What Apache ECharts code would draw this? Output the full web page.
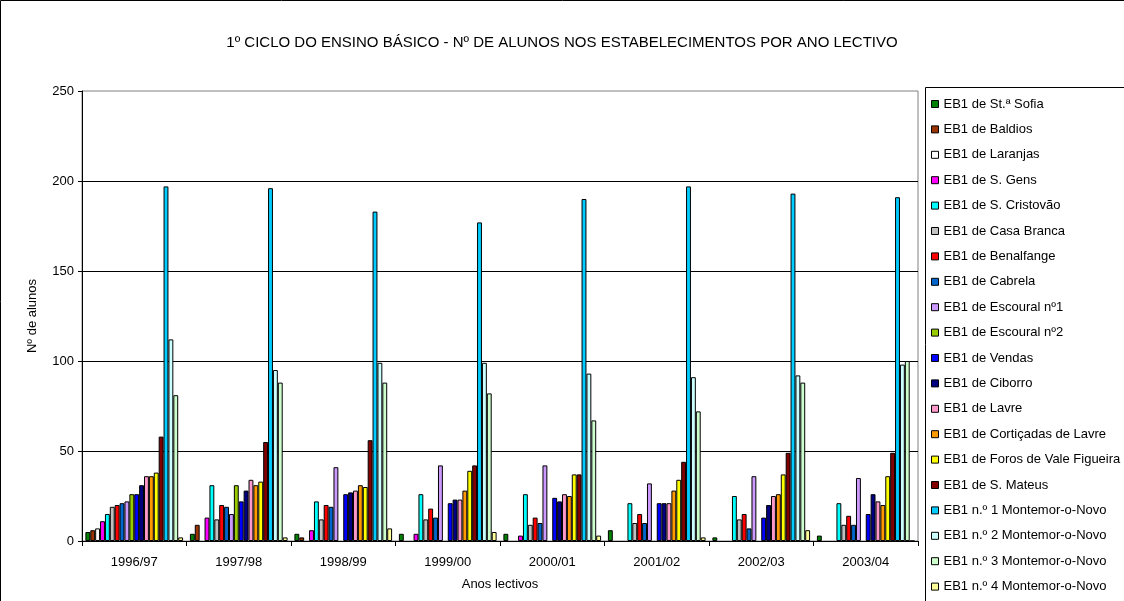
<!DOCTYPE html>
<html>
<head>
<meta charset="utf-8">
<script src="https://cdn.jsdelivr.net/npm/echarts@6/dist/echarts.min.js"></script>
<style>
html,body{margin:0;padding:0;background:#fff;}
#chart{width:1124px;height:601px;}
</style>
</head>
<body>
<div id="chart"></div>
<script>
const categories = ['1996/97','1997/98','1998/99','1999/00','2000/01','2001/02','2002/03','2003/04'];
const yTicks = [0, 50, 100, 150, 200, 250];

const seriesNames = [
  'EB1 de St.ª Sofia','EB1 de Baldios','EB1 de Laranjas','EB1 de S. Gens','EB1 de S. Cristovão',
  'EB1 de Casa Branca','EB1 de Benalfange','EB1 de Cabrela','EB1 de Escoural nº1','EB1 de Escoural nº2',
  'EB1 de Vendas','EB1 de Ciborro','EB1 de Lavre','EB1 de Cortiçadas de Lavre','EB1 de Foros de Vale Figueira',
  'EB1 de S. Mateus','EB1 n.º 1 Montemor-o-Novo','EB1 n.º 2 Montemor-o-Novo','EB1 n.º 3 Montemor-o-Novo','EB1 n.º 4 Montemor-o-Novo'
];

const staSofia   = [5, 4, 4, 4, 4, 6, 2, 3];
const baldios    = [6, 9, 2, null, null, null, null, null];
const laranjas   = [7, null, null, null, null, null, null, null];
const sGens      = [11, 13, 6, 4, 3, null, null, null];
const sCristovao = [15, 31, 22, 26, 26, 21, 25, 21];
const casaBranca = [19, 12, 12, 12, 9, 10, 12, 9];
const benalfange = [20, 20, 20, 18, 13, 15, 15, 14];
const cabrela    = [21, 19, 19, 13, 10, 10, 7, 9];
const escoural1  = [22, 15, 41, 42, 42, 32, 36, 35];
const escoural2  = [26, 31, null, null, null, null, null, null];
const vendas     = [26, 22, 26, 21, 24, 21, 13, 15];
const ciborro    = [31, 28, 27, 23, 22, 21, 20, 26];
const lavre      = [36, 34, 28, 23, 26, 21, 25, 22];
const corticadas = [36, 31, 31, 28, 25, 28, 26, 20];
const foros      = [38, 33, 30, 39, 37, 34, 37, 36];
const sMateus    = [58, 55, 56, 42, 37, 44, 49, 49];
const montemor1  = [197, 196, 183, 177, 190, 197, 193, 191];
const montemor2  = [112, 95, 99, 99, 93, 91, 92, 98];
const montemor3  = [81, 88, 88, 82, 67, 72, 88, 100];
const montemor4  = [2, 2, 7, 5, 3, 2, 6, 0];

const seriesValues = [staSofia, baldios, laranjas, sGens, sCristovao, casaBranca, benalfange, cabrela,
  escoural1, escoural2, vendas, ciborro, lavre, corticadas, foros, sMateus, montemor1, montemor2, montemor3, montemor4];

const colors = ['#008000','#993300','#FFFFFF','#FF00FF','#00FFFF','#C0C0C0','#FF0000','#0066CC','#CC99FF','#99CC00',
  '#0000FF','#000080','#FF99CC','#FF9900','#FFFF00','#800000','#00CCFF','#CCFFFF','#CCFFCC','#FFFF99'];

const FONT = '"Liberation Sans", Arial, sans-serif';

const chart = echarts.init(document.getElementById('chart'), null, {renderer: 'canvas'});

const series = seriesNames.map((name, i) => ({
  name: name,
  type: 'bar',
  data: seriesValues[i],
  barGap: '0%',
  barCategoryGap: '6.5%',
  itemStyle: {color: colors[i], borderColor: '#000', borderWidth: 1},
  emphasis: {disabled: true},
  animation: false
}));

chart.setOption({
  animation: false,
  backgroundColor: '#fff',
  title: {
    text: '1º CICLO DO ENSINO BÁSICO - Nº DE ALUNOS NOS ESTABELECIMENTOS POR ANO LECTIVO',
    left: 'center',
    top: 35,
    padding: [0, 0, 0, 20],
    textStyle: {fontFamily: FONT, fontSize: 15, fontWeight: 'normal', color: '#000'}
  },
  legend: {
    orient: 'vertical',
    left: 931,
    top: 97,
    padding: 0,
    itemWidth: 7,
    itemHeight: 7,
    itemGap: 11.4,
    icon: 'rect',
    selectedMode: false,
    itemStyle: {borderColor: '#000', borderWidth: 1},
    textStyle: {fontFamily: FONT, fontSize: 13, color: '#000', lineHeight: 14},
    data: seriesNames
  },
  grid: {
    left: 82, top: 91, right: 206, bottom: 60,
    show: true, borderColor: '#808080', borderWidth: 1, backgroundColor: 'transparent',
    containLabel: false
  },
  xAxis: {
    type: 'category',
    data: categories,
    name: 'Anos lectivos',
    nameLocation: 'middle',
    nameGap: 37,
    nameTextStyle: {fontFamily: FONT, fontSize: 13, color: '#000'},
    axisLine: {lineStyle: {color: '#000', width: 1}},
    axisTick: {show: true, length: 5, lineStyle: {color: '#000'}},
    axisLabel: {fontFamily: FONT, fontSize: 13, color: '#000', margin: 15},
    splitLine: {show: false}
  },
  yAxis: {
    type: 'value',
    min: yTicks[0],
    max: yTicks[yTicks.length - 1],
    interval: yTicks[1] - yTicks[0],
    name: 'Nº de alunos',
    nameLocation: 'middle',
    nameGap: 43,
    nameTextStyle: {fontFamily: FONT, fontSize: 13, color: '#000'},
    axisLine: {show: true, lineStyle: {color: '#000', width: 1}},
    axisTick: {show: true, length: 4, lineStyle: {color: '#000'}},
    axisLabel: {fontFamily: FONT, fontSize: 13, color: '#000', margin: 8},
    splitLine: {show: true, showMaxLine: false, lineStyle: {color: '#000', width: 1}}
  },
  graphic: [
    {type: 'rect', shape: {x: 0.5, y: 0.5, width: 1400, height: 900}, style: {fill: 'none', stroke: '#000', lineWidth: 1}, silent: true, z: 100},
    {type: 'rect', shape: {x: 925.5, y: 87.5, width: 400, height: 700}, style: {fill: 'none', stroke: '#000', lineWidth: 1}, silent: true, z: 100}
  ],
  series: series
});
</script>
</body>
</html>
